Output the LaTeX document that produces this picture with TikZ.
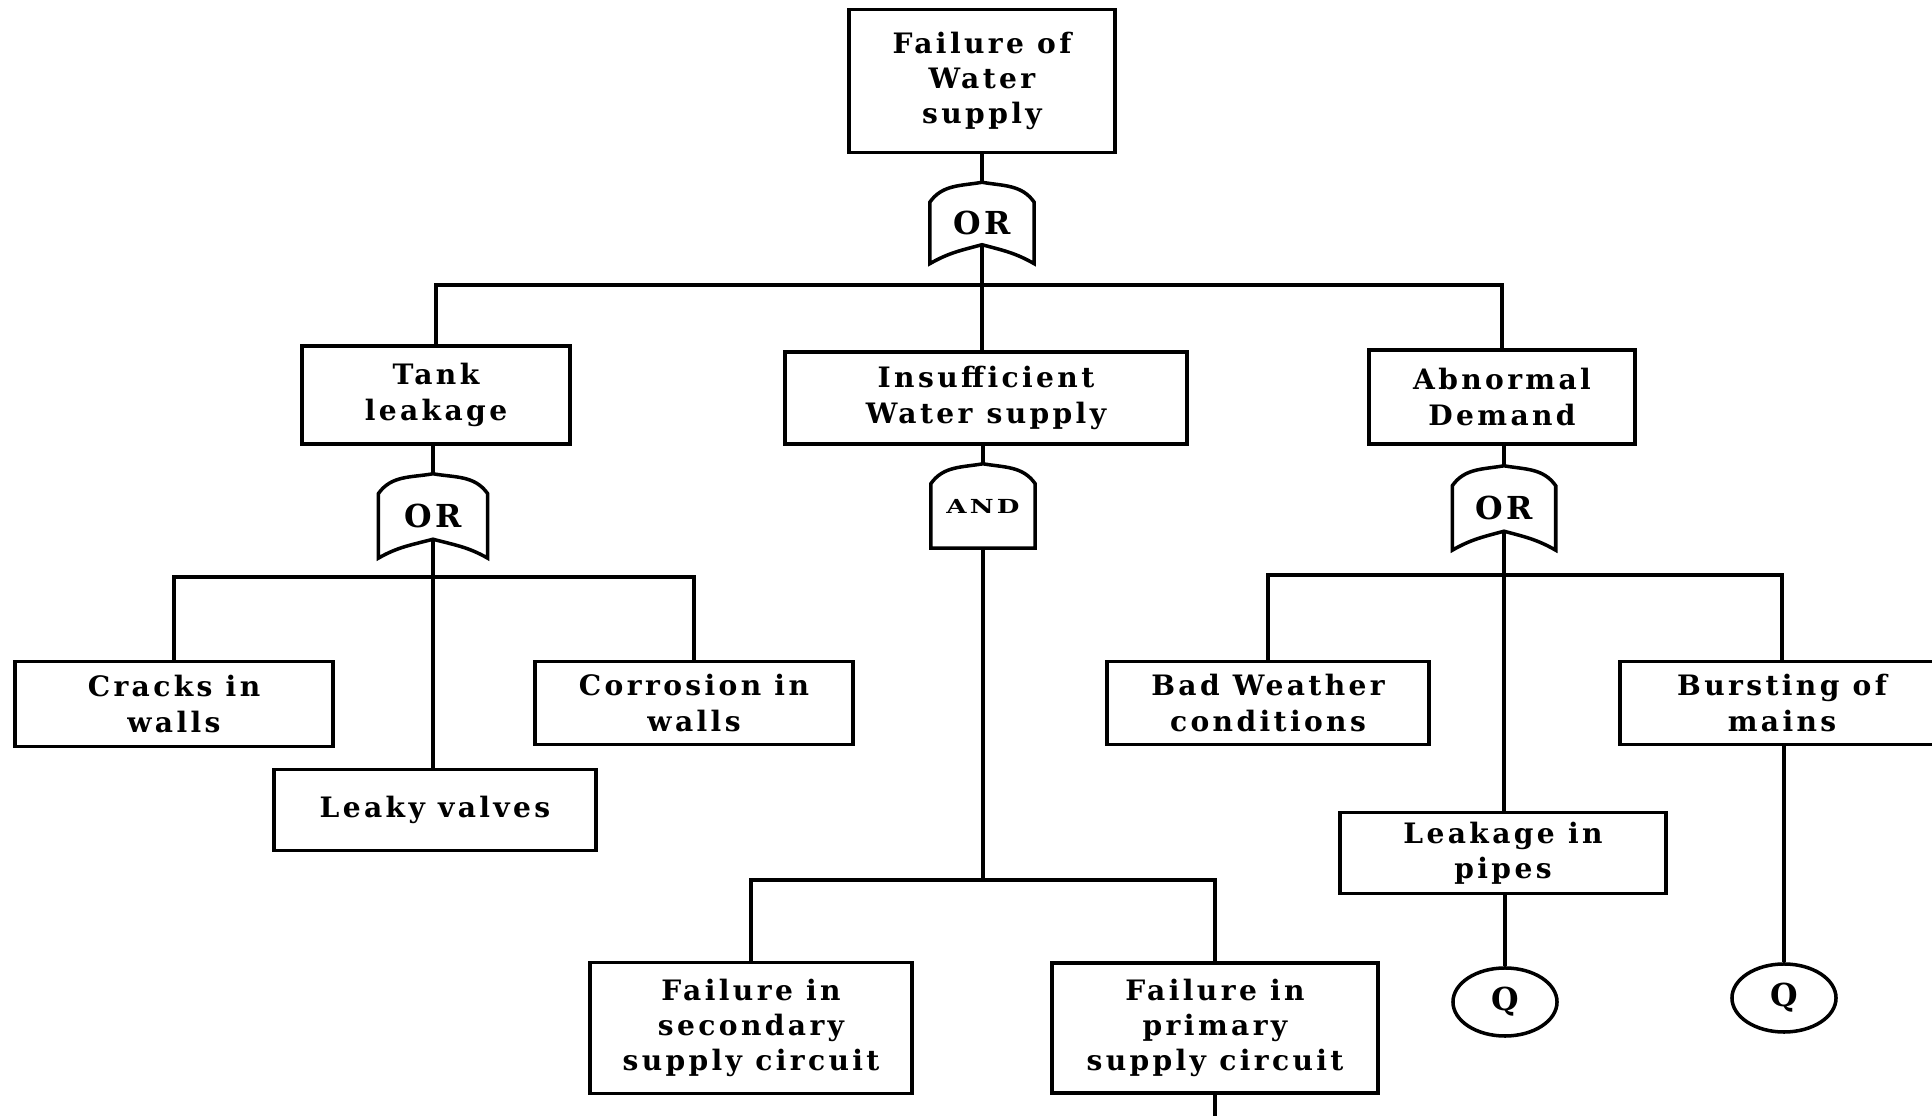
\documentclass[tikz,border=0pt]{standalone}
\usepackage{fontspec}
\newfontfamily\labelfont{DejaVu Serif}[LetterSpace=12]
\usetikzlibrary{calc,shapes.geometric}

% OR gate outline: pointed arch on top, arched (concave) base
\newcommand\drawOrGate[1]{%
  \draw[gateline] ($(#1.north west)+(0,20)$) to[out=55,in=190] (#1.north)
    to[out=-10,in=125] ($(#1.north east)+(0,20)$) -- (#1.south east)
    to[out=150,in=-15] ($(#1.south)+(0,-19)$)
    to[out=195,in=30] (#1.south west) -- cycle;}
% AND gate outline: pointed arch on top, flat base
\newcommand\drawAndGate[1]{%
  \draw[gateline] ($(#1.north west)+(0,20)$) to[out=55,in=190] (#1.north)
    to[out=-10,in=125] ($(#1.north east)+(0,20)$) -- (#1.south east)
    -- (#1.south west) -- cycle;}

\begin{document}
\begin{tikzpicture}[x=0.01cm,y=-0.01cm,
  event/.style={draw, line width=1.1pt, inner sep=0pt, align=center,
    font=\labelfont\bfseries\fontsize{8}{10}\selectfont},
  gate/.style={inner sep=0pt, minimum width=1.03cm, minimum height=0.82cm,
    font=\labelfont\bfseries\fontsize{9}{11}\selectfont},
  gateline/.style={line width=1pt},
  link/.style={line width=0.9pt},
  basic/.style={draw, ellipse, line width=1pt, minimum width=1.04cm,
    minimum height=0.68cm, inner sep=0pt,
    font=\labelfont\bfseries\fontsize{9}{11}\selectfont}]
\useasboundingbox (0,0) rectangle (1932,1116);

% top event and first gate
\node[event, minimum width=2.65cm, minimum height=1.43cm] (top) at (982,81) {Failure of\\Water\\supply};
\node[gate, minimum height=0.80cm] (g1) at (982,223) {OR};

% second level events
\node[event, minimum width=2.68cm, minimum height=0.98cm] (tank) at (436,395) {Tank\\leakage};
\node[event, minimum width=4.02cm, minimum height=0.92cm] (ins) at (986,398) {Insufficient\\Water\enspace supply};
\node[event, minimum width=2.65cm, minimum height=0.94cm] (abn) at (1502,397) {Abnormal\\Demand};

% second level gates
\node[gate, minimum width=1.08cm, minimum height=0.83cm] (g2) at (433,516) {OR};
\node[gate, minimum width=1.03cm, minimum height=0.83cm] (g4) at (983,506)
  {\scalebox{1.35}[1]{\fontsize{5.5}{7}\selectfont AND}};
\node[gate, minimum width=1.02cm, minimum height=0.83cm] (g3) at (1504,508) {OR};

% tank leakage causes
\node[event, minimum width=3.18cm, minimum height=0.85cm] (cracks) at (174,704) {Cracks in\\walls};
\node[event, minimum width=3.17cm, minimum height=0.83cm] (corr) at (694,703) {Corrosion in\\walls};
\node[event, minimum width=3.21cm, minimum height=0.81cm] (leaky) at (435,810) {Leaky valves};

% abnormal demand causes
\node[event, minimum width=3.21cm, minimum height=0.83cm] (bad) at (1268,703) {Bad Weather\\conditions};
\node[event, minimum width=3.24cm, minimum height=0.83cm] (burst) at (1782,703) {Bursting of\\mains};
\node[event, minimum width=3.26cm, minimum height=0.81cm] (pipes) at (1503,853) {Leakage in\\pipes};
\node[basic] (q1) at (1505,1002) {Q};
\node[basic] (q2) at (1784,998) {Q};

% insufficient supply causes
\node[event, minimum width=3.21cm, minimum height=1.31cm] (sec) at (751,1028) {Failure in\\secondary\\supply circuit};
\node[event, minimum width=3.25cm, minimum height=1.30cm] (prim) at (1215,1028) {Failure in\\primary\\supply circuit};

% gate outlines
\drawOrGate{g1}
\drawOrGate{g2}
\drawOrGate{g3}
\drawAndGate{g4}

% junction points
\coordinate (b1) at ($(g1.south)+(0,-19)$);
\coordinate (b2) at ($(g2.south)+(0,-19)$);
\coordinate (b3) at ($(g3.south)+(0,-19)$);
\coordinate (bus1) at (982,285);
\coordinate (bus2) at (433,577);
\coordinate (bus3) at (1504,575);
\coordinate (bus4) at (983,880);
\coordinate (tail) at (1215,1130);

% connectors
\draw[link] (g1.north |- top.south) -- (g1.north);
\draw[link] (b1) -- (b1 |- ins.north);
\draw[link] (tank.north) |- (bus1) -| (abn.north);

\draw[link] (g2.north |- tank.south) -- (g2.north);
\draw[link] (b2) -- (b2 |- leaky.north);
\draw[link] (cracks.north) |- (bus2) -| (corr.north);

\draw[link] (g3.north |- abn.south) -- (g3.north);
\draw[link] (b3) -- (b3 |- pipes.north);
\draw[link] (bad.north) |- (bus3) -| (burst.north);
\draw[link] (pipes.south -| q1.north) -- (q1.north);
\draw[link] (burst.south -| q2.north) -- (q2.north);

\draw[link] (g4.north |- ins.south) -- (g4.north);
\draw[link] (g4.south) -- (bus4);
\draw[link] (sec.north) |- (bus4) -| (prim.north);
\draw[link] (prim.south) -- (tail);
\end{tikzpicture}
\end{document}
